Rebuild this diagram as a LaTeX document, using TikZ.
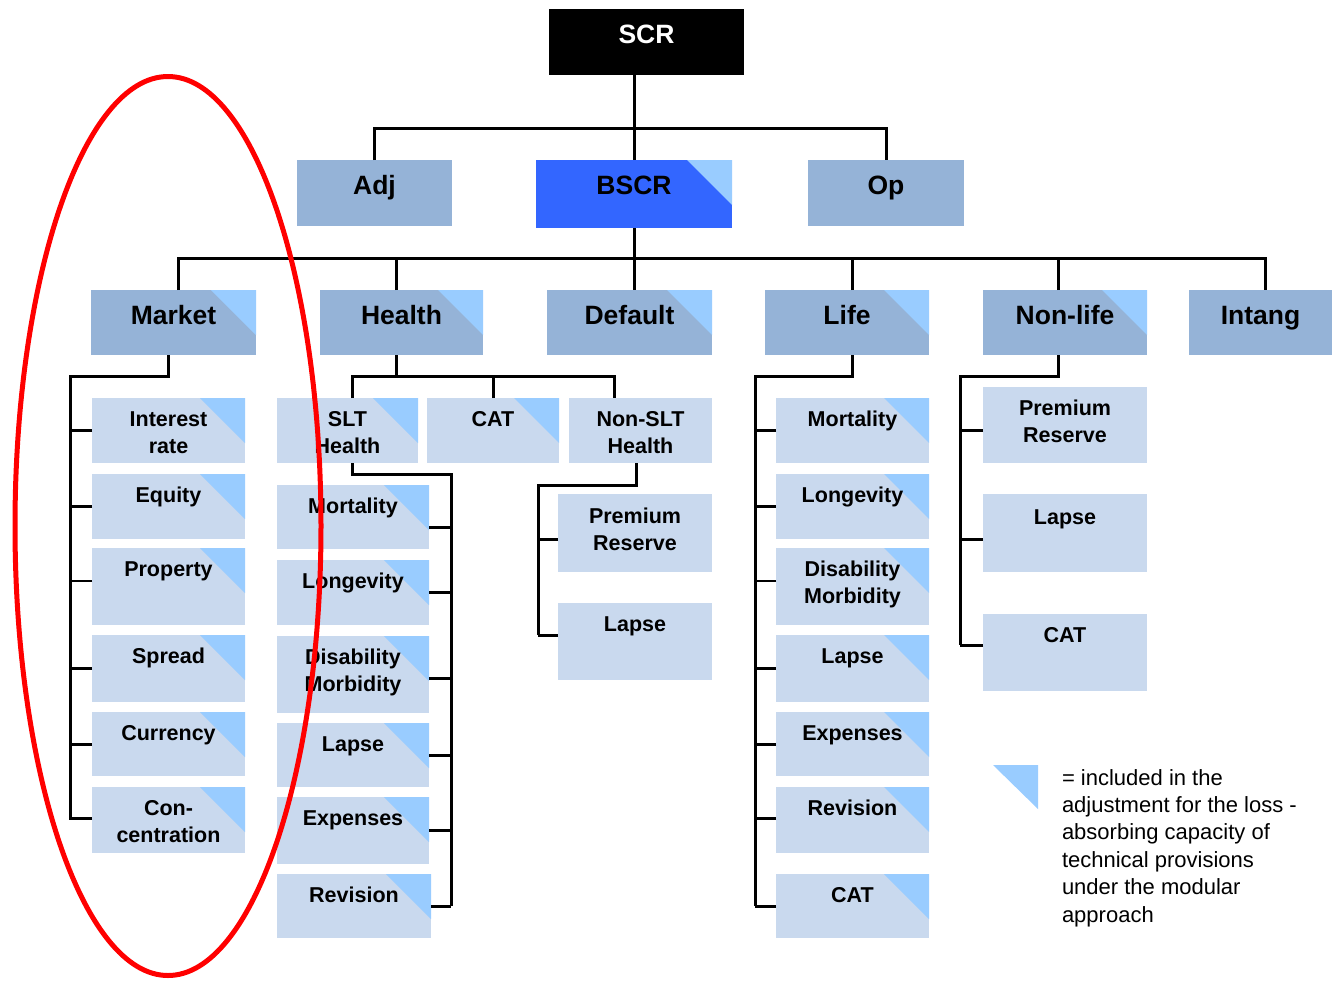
\documentclass[tikz,border=0pt]{standalone}
\usepackage{fontspec}
\setmainfont{Liberation Sans}
\usetikzlibrary{shapes.geometric}
\definecolor{midblue}{HTML}{95B3D7}
\definecolor{lightblue}{HTML}{C9D9EE}
\definecolor{tricol}{HTML}{99CCFF}
\definecolor{bscrblue}{HTML}{3366FF}
\newcommand\bx[9]{%
  \node[#6, minimum width={#4-#2}, minimum height={#5-#3}, anchor=north west] (#1) at (#2,#3) {};
  \node[#7] (#1t) at ([yshift=-#8pt]#1.north) {#9};}
\newcommand\tk[3][]{\draw[conn,#1] (#2) coordinate (tka) -- (tka -| #3);}
\begin{document}
\begin{tikzpicture}[x=1pt,y=-1pt,
  every node/.style={inner sep=0pt, outer sep=0pt},
  conn/.style={line width=3pt},
  thinconn/.style={line width=1.6pt},
  topbox/.style={fill=black},
  midbox/.style={fill=midblue},
  subbox/.style={fill=lightblue},
  hot/.style={fill=bscrblue},
  tri/.style={path picture={\fill[tricol] (path picture bounding box.north east) -- ++(-45,0) -- ++(45,45) -- cycle;}},
  bigtxt/.style={font=\bfseries\fontsize{26.5}{32}\selectfont, align=center, anchor=base},
  smalltxt/.style={font=\bfseries\fontsize{21.5}{27}\selectfont, align=center, anchor=base},
]
\useasboundingbox (0,0) rectangle (1332,980);
\fill[white] (0,0) rectangle (1332,980);

% top level
\bx{scr}{549}{9}{744}{75}{topbox}{bigtxt,text=white}{34}{SCR}
\bx{adj}{297}{160}{452}{226}{midbox}{bigtxt}{34}{Adj}
\bx{bscr}{536}{160}{732}{228}{hot,tri}{bigtxt}{34}{BSCR}
\bx{op}{808}{160}{964}{226}{midbox}{bigtxt}{34}{Op}

% level 2
\bx{market}{91}{290}{256}{355}{midbox,tri}{bigtxt}{34}{Market}
\bx{health}{320}{290}{483}{355}{midbox,tri}{bigtxt}{34}{Health}
\bx{default}{547}{290}{712}{355}{midbox,tri}{bigtxt}{34}{Default}
\bx{life}{765}{290}{929}{355}{midbox,tri}{bigtxt}{34}{Life}
\bx{nonlife}{983}{290}{1147}{355}{midbox,tri}{bigtxt}{34}{Non-life}
\bx{intang}{1189}{290}{1332}{355}{midbox}{bigtxt}{34}{Intang}

% market children
\bx{ir}{92}{398}{245}{463}{subbox,tri}{smalltxt}{55}{Interest\\rate}
\bx{eq}{92}{474}{245}{539}{subbox,tri}{smalltxt}{28}{Equity}
\bx{prop}{92}{548}{245}{625}{subbox,tri}{smalltxt}{28}{Property}
\bx{spr}{92}{635}{245}{702}{subbox,tri}{smalltxt}{28}{Spread}
\bx{cur}{92}{712}{245}{776}{subbox,tri}{smalltxt}{28}{Currency}
\bx{con}{92}{787}{245}{853}{subbox,tri}{smalltxt}{55}{Con-\\centration}

% health children
\bx{slt}{277}{398}{418}{463}{subbox,tri}{smalltxt}{55}{SLT\\Health}
\bx{hcat}{427}{398}{559}{463}{subbox,tri}{smalltxt}{28}{CAT}
\bx{nslt}{569}{398}{712}{463}{subbox}{smalltxt}{55}{Non-SLT\\Health}

\bx{smort}{277}{485}{429}{549}{subbox,tri}{smalltxt}{28}{Mortality}
\bx{slong}{277}{560}{429}{625}{subbox,tri}{smalltxt}{28}{Longevity}
\bx{sdis}{277}{636}{429}{713}{subbox,tri}{smalltxt}{55}{Disability\\Morbidity}
\bx{slapse}{277}{723}{429}{787}{subbox,tri}{smalltxt}{28}{Lapse}
\bx{sexp}{277}{797}{429}{864}{subbox,tri}{smalltxt}{28}{Expenses}
\bx{srev}{277}{874}{431}{938}{subbox,tri}{smalltxt}{28}{Revision}

\bx{pr}{558}{494}{712}{572}{subbox}{smalltxt}{56}{Premium\\Reserve}
\bx{nlapse}{558}{603}{712}{680}{subbox}{smalltxt}{28.5}{Lapse}

% life children
\bx{lmort}{776}{398}{929}{463}{subbox,tri}{smalltxt}{28}{Mortality}
\bx{llong}{776}{474}{929}{539}{subbox,tri}{smalltxt}{28}{Longevity}
\bx{ldis}{776}{548}{929}{625}{subbox,tri}{smalltxt}{55}{Disability\\Morbidity}
\bx{llapse}{776}{635}{929}{702}{subbox,tri}{smalltxt}{28}{Lapse}
\bx{lexp}{776}{712}{929}{776}{subbox,tri}{smalltxt}{28}{Expenses}
\bx{lrev}{776}{787}{929}{853}{subbox,tri}{smalltxt}{28}{Revision}
\bx{lcat}{776}{874}{929}{938}{subbox,tri}{smalltxt}{28}{CAT}

% non-life children
\bx{npr}{983}{387}{1147}{463}{subbox}{smalltxt}{55.5}{Premium\\Reserve}
\bx{nlap}{983}{494}{1147}{572}{subbox}{smalltxt}{30}{Lapse}
\bx{ncat}{983}{614}{1147}{691}{subbox}{smalltxt}{28.5}{CAT}

% connectors top
\draw[conn] (scr.south -| bscr.north) -- (bscr.north);
\coordinate (topbus) at (636,128);
\draw[conn] (adj.north) |- (topbus) -| (op.north);
\coordinate (bus) at (636,258);
\draw[conn] ([xshift=4.5pt]market.north) |- (bus) -| ([xshift=4.5pt]intang.north);
\draw[conn] (bscr.south) -- (bscr.south |- default.north);
\draw[conn] ([xshift=-5.5pt]health.north) -- ++(0,-32);
\draw[conn] ([xshift=5pt]life.north) -- ++(0,-32);
\draw[conn] ([xshift=-7pt]nonlife.north) -- ++(0,-32);

% market subtree
\coordinate (mv) at (70,376);
\draw[conn] ([xshift=-5.5pt]market.south) |- (mv) -- (mv |- con.west);
\tk{ir.west}{mv}
\tk{eq.west}{mv}
\tk[thinconn]{[yshift=5.5pt]prop.west}{mv}
\tk{spr.west}{mv}
\tk{cur.west}{mv}
\tk{[yshift=2pt]con.west}{mv}

% health subtree
\coordinate (hb) at (396,376);
\draw[conn] ([xshift=-5.5pt]health.south) -- (hb);
\draw[conn] ([xshift=4.5pt]slt.north) |- (hb) -| ([xshift=-26.5pt]nslt.north);
\draw[conn] (hcat.north) -- (hcat.north |- hb);

\coordinate (sv) at (451,474);
\draw[conn] ([xshift=4.5pt]slt.south) |- (sv) -- (sv |- srev.east);
\tk{[yshift=-10pt]smort.east}{sv}
\tk{slong.east}{sv}
\tk{[yshift=-3.5pt]sdis.east}{sv}
\tk{slapse.east}{sv}
\tk{sexp.east}{sv}
\tk{srev.east}{sv}

\coordinate (nv) at (538,485);
\coordinate (nvend) at (538,635);
\draw[conn] ([xshift=-4.5pt]nslt.south) |- (nv) -- (nvend);
\tk{[yshift=-6pt]pr.west}{nv}
\tk{[yshift=6.5pt]nlapse.west}{nv}

% life subtree
\coordinate (lv) at (755,376);
\draw[conn] ([xshift=5pt]life.south) |- (lv) -- (lv |- lcat.west);
\tk{lmort.west}{lv}
\tk{llong.west}{lv}
\tk[thinconn]{[yshift=5.5pt]ldis.west}{lv}
\tk{llapse.west}{lv}
\tk{lexp.west}{lv}
\tk{[yshift=2pt]lrev.west}{lv}
\tk{lcat.west}{lv}

% non-life subtree
\coordinate (nlv) at (960,376);
\coordinate (nlvend) at (960,645);
\draw[conn] ([xshift=-7pt]nonlife.south) |- (nlv) -- (nlvend);
\tk{[yshift=-5pt]npr.west}{nlv}
\tk{[yshift=-6pt]nlap.west}{nlv}
\tk{[yshift=7.5pt]ncat.west}{nlv}

% legend
\fill[tricol] (993,765) -- (1038,765) -- (1038,809) -- cycle;
\node[anchor=base west, align=left, font=\fontsize{22}{27.4}\selectfont] (legend) at (1062,922)
  {= included in the\\adjustment for the loss -\\absorbing capacity of\\technical provisions\\under the modular\\approach};

% red oval
\node[draw=red, line width=5pt, ellipse, minimum width=306pt, minimum height=899pt] (oval) at (168,526) {};
\end{tikzpicture}
\end{document}
